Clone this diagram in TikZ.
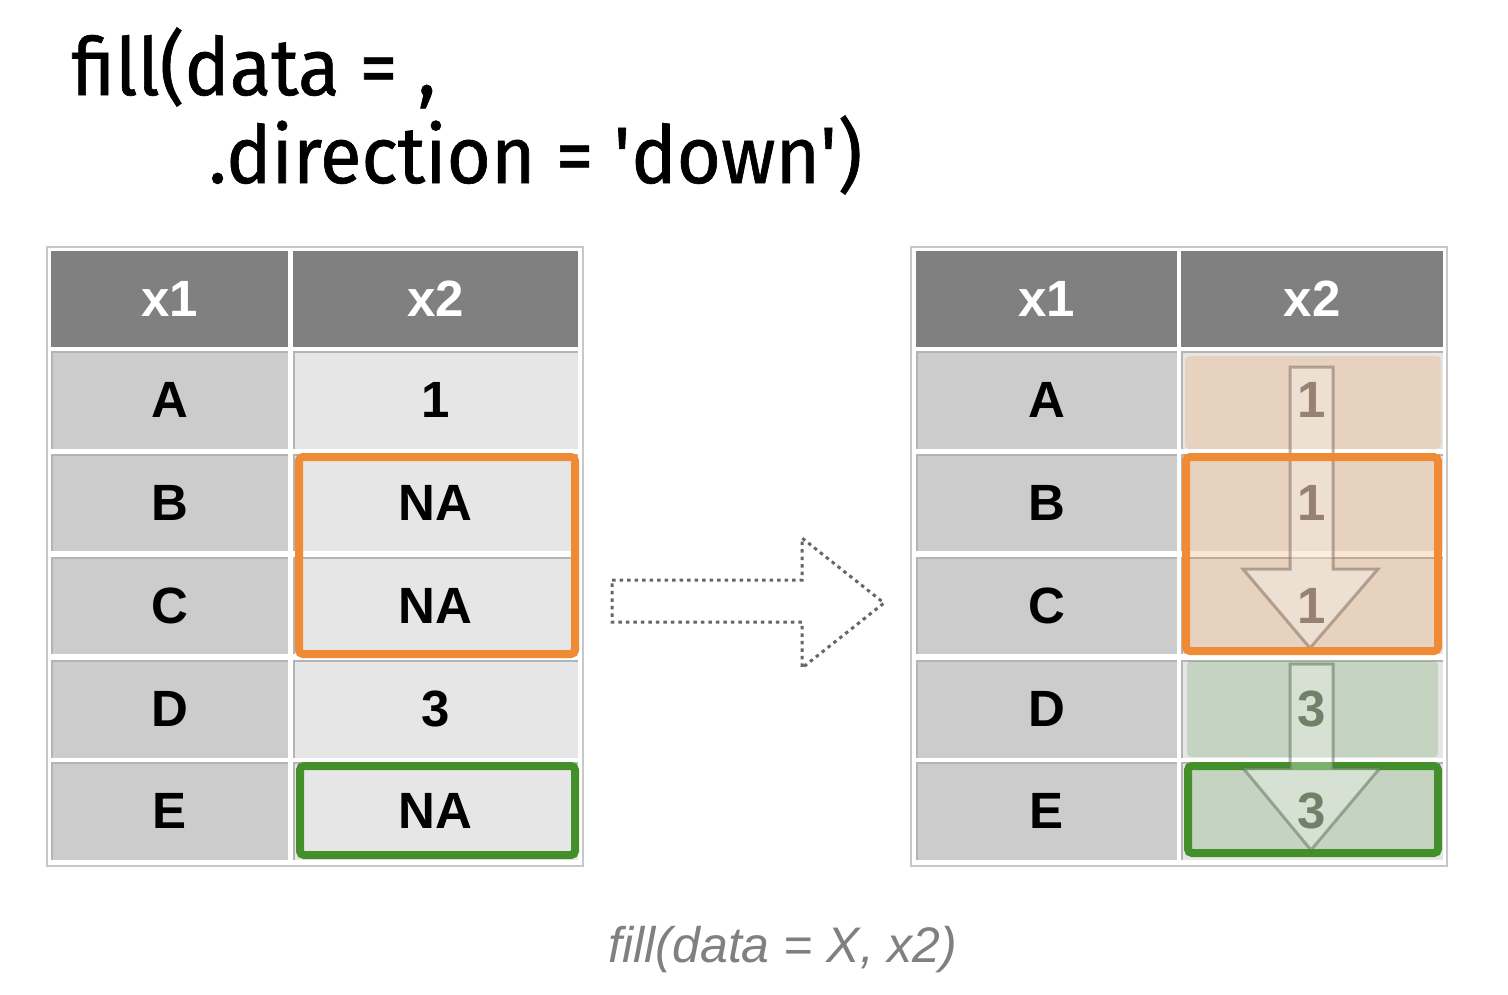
\documentclass[tikz,border=0pt]{standalone}
\usepackage{fontspec}
\setmainfont{Liberation Sans}
\newfontfamily\titlefont[FakeStretch=0.95, FakeBold=0.8]{Fira Sans}
\usepackage{xcolor}
\usepackage{tikz}
\definecolor{hdrgray}{HTML}{808080}
\definecolor{keygray}{HTML}{CCCCCC}
\definecolor{valgray}{HTML}{E6E6E6}
\definecolor{gridgray}{HTML}{B4B4B4}
\definecolor{framegray}{HTML}{C8C8C8}
\definecolor{naorange}{HTML}{EF8A35}
\definecolor{nagreen}{HTML}{43902B}
\definecolor{oneink}{HTML}{978272}
\definecolor{threeink}{HTML}{718068}
\definecolor{fillink}{HTML}{666666}
\definecolor{flowbrown}{HTML}{7A6454}
\definecolor{flowgreen}{HTML}{566E50}

\begin{document}
\begin{tikzpicture}[x=1pt, y=-1pt,
	cell/.style={minimum height=97pt, inner sep=0pt, font=\fontsize{51}{60}\selectfont\bfseries},
	hdr/.style={cell, minimum height=96pt, fill=hdrgray, text=white},
	body/.style={cell, fill=#1, path picture={\draw[gridgray, line width=3pt] (path picture bounding box.south west) |- (path picture bounding box.north east);}},
	lkey/.style={minimum width=237pt},
	lval/.style={minimum width=285pt},
	rkey/.style={minimum width=261pt},
	rval/.style={minimum width=262pt},
	nabox/.style={line width=8pt, rounded corners=4pt},
	flow/.style={draw=#1, draw opacity=0.5, line width=3pt, fill=white, fill opacity=0.3},
	filled/.style={font=\fontsize{51}{60}\selectfont\bfseries, text=#1}]
	\useasboundingbox (0,0) rectangle (1508,994);
	\fill[white] (0,0) rectangle (1508,994);
	\node[anchor=base west, font=\titlefont\fontsize{80}{90}\selectfont] (code1) at (68,95) {fill(data = ,};
	\node[anchor=base west, font=\titlefont\fontsize{80}{90}\selectfont] (code2) at (205,183) {.direction = \textquotesingle down\textquotesingle)};
	\draw[framegray, line width=2.5pt] (47,247) rectangle (583,866);
	\node[hdr, lkey] (L-x1) at (169.5,299) {x1};
	\node[hdr, lval] (L-x2) at (435.5,299) {x2};
	\node[body=keygray, lkey] (L-A1) at (169.5,400) {A};
	\node[body=valgray, lval] (L-A2) at (435.5,400) {1};
	\node[body=keygray, lkey] (L-B1) at (169.5,502.5) {B};
	\node[body=valgray, lval] (L-B2) at (435.5,502.5) {NA};
	\node[body=keygray, lkey] (L-C1) at (169.5,605.5) {C};
	\node[body=valgray, lval] (L-C2) at (435.5,605.5) {NA};
	\node[body=keygray, lkey] (L-D1) at (169.5,709) {D};
	\node[body=valgray, lval] (L-D2) at (435.5,709) {3};
	\node[body=keygray, lkey] (L-E1) at (169.5,811) {E};
	\node[body=valgray, lval] (L-E2) at (435.5,811) {NA};
	\draw[naorange, nabox] (299,457) rectangle (575,654);
	\draw[nagreen, nabox] (300,766) rectangle (575,855);
	\draw[fillink, line width=3pt, dash pattern=on 3.5pt off 4pt] (612,580) -- (802,580) -- (802,538) -- (884,603) -- (802,668) -- (802,622) -- (612,622) -- cycle;
	\draw[framegray, line width=2.5pt] (911,247) rectangle (1447,866);
	\node[hdr, rkey] (R-x1) at (1046.5,299) {x1};
	\node[hdr, rval] (R-x2) at (1312,299) {x2};
	\node[body=keygray, rkey] (R-A1) at (1046.5,400) {A};
	\node[body=valgray, rval] (R-A2) at (1312,400) {};
	\node[body=keygray, rkey] (R-B1) at (1046.5,502.5) {B};
	\node[body=valgray, rval] (R-B2) at (1312,502.5) {};
	\node[body=keygray, rkey] (R-C1) at (1046.5,605.5) {C};
	\node[body=valgray, rval] (R-C2) at (1312,605.5) {};
	\node[body=keygray, rkey] (R-D1) at (1046.5,709) {D};
	\node[body=valgray, rval] (R-D2) at (1312,709) {};
	\node[body=keygray, rkey] (R-E1) at (1046.5,811) {E};
	\node[body=valgray, rval] (R-E2) at (1312,811) {};
	\fill[naorange, opacity=0.21, rounded corners=4pt] (1185,356) rectangle (1441,449);
	\fill[naorange, opacity=0.21, rounded corners=4pt] (1186,457) rectangle (1438,651);
	\draw[flow=flowbrown] (1290,367) -- (1333,367) -- (1333,569) -- (1378,569) -- (1310,648) -- (1243,569) -- (1290,569) -- cycle;
	\draw[naorange, nabox] (1186,457) rectangle (1438,651);
	\fill[nagreen, opacity=0.2, rounded corners=4pt] (1187,661) rectangle (1438,757);
	\draw[nagreen, nabox, fill=nagreen, fill opacity=0.2] (1188,766) rectangle (1438,853);
	\draw[flow=flowgreen] (1290,664) -- (1333,664) -- (1333,768) -- (1380,768) -- (1311,850) -- (1243,768) -- (1290,768) -- cycle;
	\node[filled=oneink] (R-A2v) at (R-A2) {1};
	\node[filled=oneink] (R-B2v) at (R-B2) {1};
	\node[filled=oneink] (R-C2v) at (R-C2) {1};
	\node[filled=threeink] (R-D2v) at (R-D2) {3};
	\node[filled=threeink] (R-E2v) at (R-E2) {3};
	\node[anchor=base, text=hdrgray, font=\fontsize{50}{60}\selectfont\itshape] (call) at (783,962) {fill(data = X, x2)};
\end{tikzpicture}
\end{document}
